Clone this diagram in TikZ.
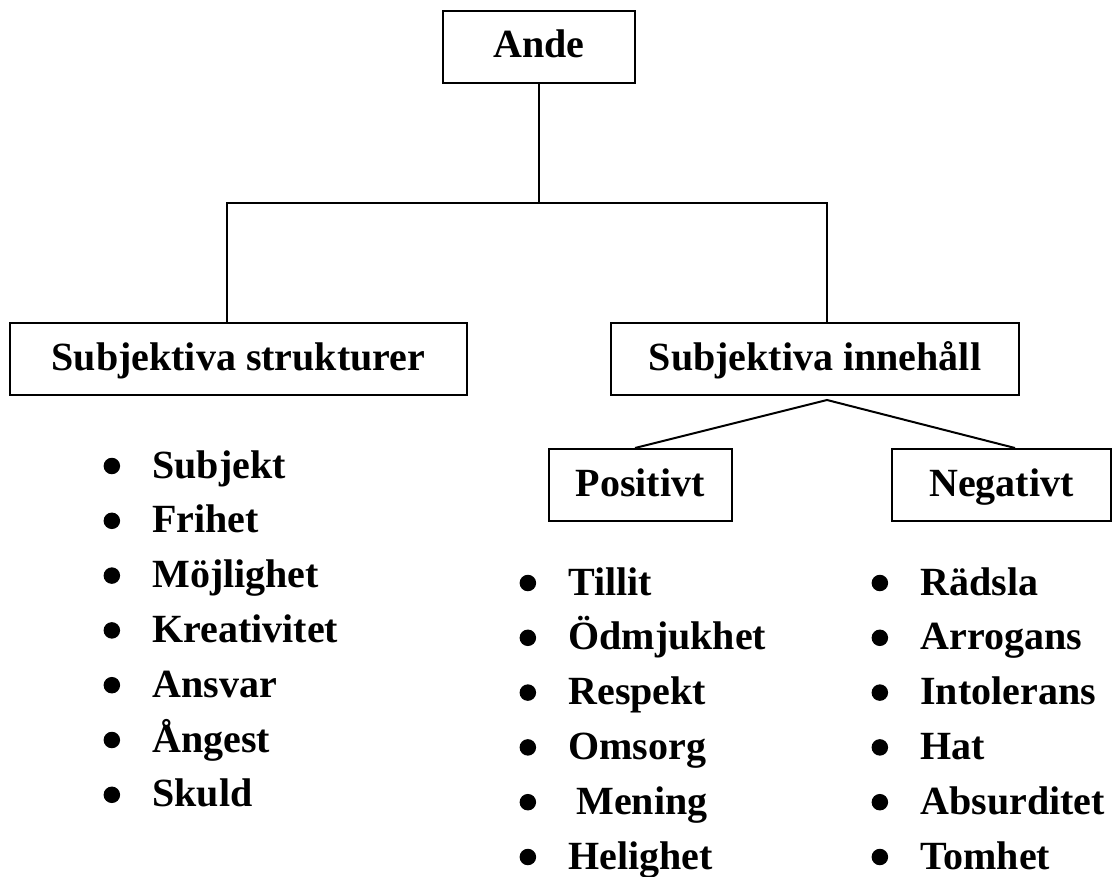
\documentclass[tikz,border=0pt]{standalone}
\usepackage{fontspec}
\setmainfont{Liberation Serif}
\usetikzlibrary{positioning}

\begin{document}
\begin{tikzpicture}[x=0.5pt,y=-0.5pt,node distance=7pt,
concept/.style={
% The box:
rectangle,
minimum height=36pt, inner sep=0pt,
text height=15pt, text depth=4pt,
% The rest
draw=black, line width=1pt,
font=\fontsize{20}{24}\selectfont\bfseries},
entry/.style={
text width=95pt, align=left, inner sep=0pt,
text height=16pt, text depth=4pt,
font=\fontsize{20}{24}\selectfont\bfseries,
label={[dot,xshift=-15.75pt]left:}},
dot/.style={circle, fill=black, inner sep=0pt, minimum size=8.25pt},
link/.style={draw=black, line width=1pt}]

\useasboundingbox (0,0) rectangle (1113,877);

\node (Ande) [concept, minimum width=96pt] at (539,47) {Ande};
\node (Strukt) [concept, minimum width=228.5pt] at (238.5,359) {Subjektiva strukturer};
\node (Innehall) [concept, minimum width=204pt] at (815,359) {Subjektiva innehåll};
\node (Pos) [concept, minimum width=91.5pt] at (640,485) {Positivt};
\node (Neg) [concept, minimum width=109.5pt] at (1001.5,485) {Negativt};

\coordinate (Split) at (539,203);
\coordinate (StruktIn) at (227,0);
\coordinate (InnIn) at (827,0);
\coordinate (Fork) at (827,400);
\coordinate (PosIn) at (635,0);
\coordinate (NegIn) at (1015,0);

\path[link] (Ande) -- (Split);
\path[link] (Strukt.north -| StruktIn) |- (Split) -| (Innehall.north -| InnIn);
\path[link] (Pos.north -| PosIn) -- (Fork) -- (Neg.north -| NegIn);

% subjektiva strukturer
\node (Subjekt) [entry, anchor=west] at (152,466) {Subjekt};
\node (Frihet) [entry, below=of Subjekt] {Frihet};
\node (Mojlighet) [entry, below=of Frihet] {Möjlighet};
\node (Kreativitet) [entry, below=of Mojlighet] {Kreativitet};
\node (Ansvar) [entry, below=of Kreativitet] {Ansvar};
\node (Angest) [entry, below=of Ansvar] {Ångest};
\node (Skuld) [entry, below=of Angest] {Skuld};

% positivt
\node (Tillit) [entry, anchor=west] at (568,583) {Tillit};
\node (Odmjukhet) [entry, below=of Tillit] {Ödmjukhet};
\node (Respekt) [entry, below=of Odmjukhet] {Respekt};
\node (Omsorg) [entry, below=of Respekt] {Omsorg};
\node (Mening) [entry, below=of Omsorg] {\hspace*{4pt}Mening};
\node (Helighet) [entry, below=of Mening] {Helighet};

% negativt
\node (Radsla) [entry, anchor=west] at (920,583) {Rädsla};
\node (Arrogans) [entry, below=of Radsla] {Arrogans};
\node (Intolerans) [entry, below=of Arrogans] {Intolerans};
\node (Hat) [entry, below=of Intolerans] {Hat};
\node (Absurditet) [entry, below=of Hat] {Absurditet};
\node (Tomhet) [entry, below=of Absurditet] {Tomhet};

\end{tikzpicture}
\end{document}
